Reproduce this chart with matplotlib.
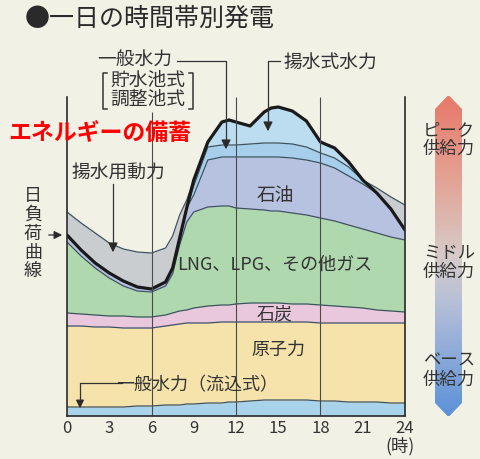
import numpy as np
import matplotlib
matplotlib.use('Agg')
import matplotlib.pyplot as plt
from matplotlib.colors import LinearSegmentedColormap
from matplotlib.patches import Polygon

plt.rcParams['font.family'] = ['Noto Sans CJK JP', 'DejaVu Sans']

# hour of day
hours = [0, 1, 2, 3, 4, 5, 6, 7, 7.5, 8, 8.5, 9, 10, 11, 11.5, 12, 13, 14, 14.5, 15,
         16, 17, 18, 19, 20, 21, 22, 23, 24]

# cumulative top of each layer (arbitrary units)
run_of_river = [9, 9, 9, 9, 9, 10, 10, 11, 11, 11, 12, 12, 13, 13, 14, 14, 15, 16, 16, 16,
                16, 16, 15, 15, 14, 14, 14, 13, 13]
nuclear = [90, 90, 89, 89, 88, 88, 88, 90, 91, 92, 93, 93, 93, 94, 94, 94, 94, 94, 94, 94,
           94, 94, 93, 93, 93, 93, 93, 93, 93]
coal = [103, 102, 101, 100, 100, 99, 99, 101, 103, 105, 106, 108, 110, 111, 111, 112, 113, 113, 113, 113,
        112, 112, 111, 110, 109, 108, 106, 105, 104]
lng = [174, 160, 148, 138, 130, 125, 124, 130, 142, 171, 194, 204, 209, 210, 210, 208, 207, 206, 205, 205,
       203, 201, 198, 195, 191, 187, 183, 179, 176]
oil = [181, 166, 153, 143, 135, 129, 127, 134, 148, 178, 208, 221, 256, 259, 259, 259, 259, 259, 259, 259,
       258, 256, 253, 248, 240, 232, 223, 207, 186]
reservoir = [181, 166, 153, 143, 135, 129, 127, 134, 148, 178, 208, 230, 269, 271, 271, 271, 272, 273, 273, 273,
             272, 269, 263, 258, 249, 236, 223, 207, 186]
# daily load curve (= top of pumped storage hydro)
load = [181, 166, 153, 143, 135, 129, 127, 134, 148, 178, 208, 236, 274, 294, 296, 294, 290, 304, 308, 309,
        305, 295, 274, 268, 254, 236, 223, 207, 186]
# generation incl. power used for pumping
supply = [204, 193, 183, 173, 167, 164, 163, 168, 180, 201, 216, 236, 274, 294, 296, 294, 290, 304, 308, 309,
          305, 295, 274, 268, 254, 236, 228, 219, 211]

xticks = [0, 3, 6, 9, 12, 15, 18, 21, 24]

bg = '#f2f1e6'
edge = '#3e5260'
txt = '#333333'

fig = plt.figure(figsize=(4.81, 4.59), dpi=100)
fig.patch.set_facecolor(bg)

ax = fig.add_axes([67 / 481, (459 - 416) / 459, (405 - 67) / 481, (416 - 97) / 459])
ax.set_facecolor(bg)
ax.set_xlim(0, 24)
ax.set_ylim(0, 319)

zero = np.zeros(len(hours))
layers = [(zero, run_of_river, '#a9d3ea'),
          (run_of_river, nuclear, '#f5e3ab'),
          (nuclear, coal, '#e9c8de'),
          (coal, lng, '#b0d8ae'),
          (lng, oil, '#b7c2e0'),
          (oil, reservoir, '#a7cfec'),
          (reservoir, load, '#bcdcf0'),
          (load, supply, '#c9cdcf')]
for lo, hi, c in layers:
    ax.fill_between(hours, lo, hi, color=c, lw=0)

for s in [run_of_river, nuclear, coal, lng, oil, reservoir, supply]:
    ax.plot(hours, s, color=edge, lw=0.9)
ax.plot(hours, load, color='#1a1a1a', lw=2.3, solid_capstyle='round')

ax.vlines(6, 0, 304, color='#4a4a4a', lw=0.8)
ax.vlines([12, 18], 0, 319, color='#4a4a4a', lw=0.8)

for sp in ['left', 'right', 'bottom']:
    ax.spines[sp].set_color('#2a2a2a')
    ax.spines[sp].set_linewidth(1.2)
ax.spines['top'].set_visible(False)
ax.set_yticks([])
ax.set_xticks(xticks)
ax.set_xticklabels([str(t) for t in xticks], fontsize=12, color=txt)
ax.tick_params(axis='x', length=0, pad=3)

# overlay in pixel coordinates for labels and the legend arrow
ov = fig.add_axes([0, 0, 1, 1])
ov.patch.set_alpha(0)
ov.axis('off')

cmap = LinearSegmentedColormap.from_list('supply', [
    (0.0, '#e7796a'), (0.25, '#e4a192'), (0.5, '#d6cbc8'), (0.65, '#b5bfd8'), (1.0, '#5b91d8')])
grad = np.linspace(0, 1, 256).reshape(-1, 1)
im = ov.imshow(grad, extent=(435, 462, 416, 96), cmap=cmap, aspect='auto', origin='upper')
arrow = Polygon([(448.5, 95), (462, 109), (462, 403), (448.5, 417), (435, 403), (435, 109)],
                closed=True, transform=ov.transData, facecolor='none', edgecolor='none')
ov.add_patch(arrow)
im.set_clip_path(arrow)
ov.set_xlim(0, 481)
ov.set_ylim(459, 0)

for label, y in [('ピーク\n供給力', 139), ('ミドル\n供給力', 262), ('ベース\n供給力', 370)]:
    ov.text(449, y, label, ha='center', va='center', fontsize=12.5, color=txt, linespacing=1.05)

ov.text(150, 19, '●一日の時間帯別発電', ha='center', va='center', fontsize=18, color='#2a2a2a')
ov.text(100, 134, 'エネルギーの備蓄', ha='center', va='center', fontsize=16.5, color='#ff0000',
        fontweight='bold')

ov.text(135, 59, '一般水力', ha='center', va='center', fontsize=13.5, color=txt)
ov.text(148, 90, '貯水池式\n調整池式', ha='center', va='center', fontsize=13.5, color=txt,
        linespacing=0.92)
ov.plot([107, 103, 103, 107], [73, 73, 109, 109], color=txt, lw=1.1)
ov.plot([189, 193, 193, 189], [73, 73, 109, 109], color=txt, lw=1.1)
ov.plot([177, 226, 226], [61, 61, 140], color=txt, lw=0.9)
ov.annotate('', xy=(226, 152), xytext=(226, 139),
            arrowprops=dict(arrowstyle='-|>', color='#2a2a2a', lw=0.9, mutation_scale=14))

ov.text(330, 62, '揚水式水力', ha='center', va='center', fontsize=13.5, color=txt)
ov.plot([280, 268, 268], [61, 61, 122], color=txt, lw=0.9)
ov.annotate('', xy=(268, 134), xytext=(268, 121),
            arrowprops=dict(arrowstyle='-|>', color='#2a2a2a', lw=0.9, mutation_scale=14))

ov.text(118, 173, '揚水用動力', ha='center', va='center', fontsize=13.5, color=txt)
ov.plot([113, 113], [184, 243], color=txt, lw=0.9)
ov.annotate('', xy=(113, 255), xytext=(113, 242),
            arrowprops=dict(arrowstyle='-|>', color='#2a2a2a', lw=0.9, mutation_scale=14))

ov.text(33, 234, '日\n負\n荷\n曲\n線', ha='center', va='center', fontsize=13, color=txt, linespacing=1.08)
ov.annotate('', xy=(65, 235), xytext=(46, 235),
            arrowprops=dict(arrowstyle='-|>', color='#2a2a2a', lw=0.9, mutation_scale=12))

ov.text(275, 195, '石油', ha='center', va='center', fontsize=13.5, color=txt)
ov.text(275, 265, 'LNG、LPG、その他ガス', ha='center', va='center', fontsize=13, color=txt)
ov.text(275, 314, '石炭', ha='center', va='center', fontsize=13, color=txt)
ov.text(278, 350, '原子力', ha='center', va='center', fontsize=13, color=txt)
ov.text(197, 385, '一般水力（流込式）', ha='center', va='center', fontsize=13, color=txt)
ov.plot([122, 80, 80], [383, 383, 400], color=txt, lw=0.9)
ov.annotate('', xy=(80, 411), xytext=(80, 399),
            arrowprops=dict(arrowstyle='-|>', color='#2a2a2a', lw=0.9, mutation_scale=12))

ov.text(400, 446, '(時)', ha='center', va='center', fontsize=12.5, color=txt)

fig.savefig('out.png', dpi=100, facecolor=fig.get_facecolor())
